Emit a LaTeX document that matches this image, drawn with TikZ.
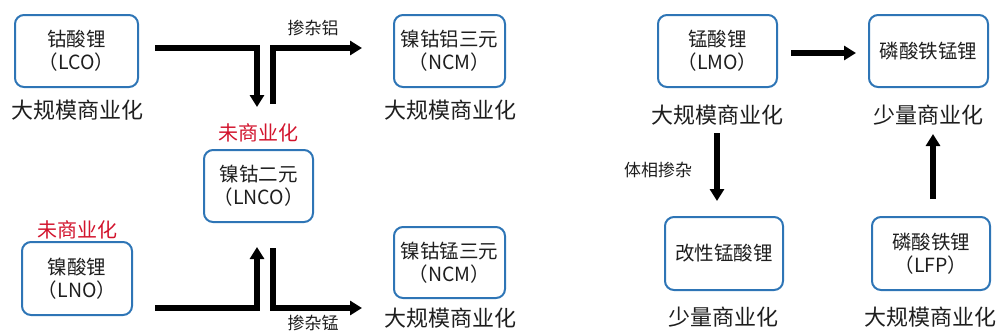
\documentclass[tikz,border=0pt]{standalone}
\usepackage{fontspec}
\setmainfont{Noto Sans CJK SC}
\usetikzlibrary{arrows.meta,calc}
\definecolor{boxblue}{RGB}{46,117,182}
\definecolor{redtxt}{RGB}{210,20,45}
\definecolor{txt}{RGB}{30,30,30}
\begin{document}
\begin{tikzpicture}[x=1pt,y=-1pt,
  box/.style={draw=boxblue, line width=2pt, rounded corners=9pt, align=center,
    inner sep=0pt, text=txt, font=\fontsize{19.5}{23}\selectfont},
  biglabel/.style={inner sep=0pt, text=txt, font=\fontsize{22}{24}\selectfont},
  redlabel/.style={inner sep=0pt, text=redtxt, font=\fontsize{20}{22}\selectfont},
  smalllabel/.style={inner sep=0pt, text=txt, font=\fontsize{17}{19}\selectfont},
  arr/.style={line width=6pt, line join=miter, -{Triangle[length=12pt,width=14pt]}}]
\useasboundingbox (0,0) rectangle (998,333);
% boxes
\node[box, minimum width=123pt, minimum height=72pt] (lco) at (76.5,51) {钴酸锂\\（LCO）};
\node[box, minimum width=111pt, minimum height=72pt] (nca) at (449.5,51) {镍钴铝三元\\（NCM）};
\node[box, minimum width=109pt, minimum height=72pt] (lnco) at (258.5,186) {镍钴二元\\（LNCO）};
\node[box, minimum width=110pt, minimum height=73pt] (lno) at (77,278.5) {镍酸锂\\（LNO）};
\node[box, minimum width=111pt, minimum height=71pt] (ncm) at (449.5,262.5) {镍钴锰三元\\（NCM）};
\node[box, minimum width=119pt, minimum height=72pt] (lmo) at (717.5,51) {锰酸锂\\（LMO）};
\node[box, minimum width=119pt, minimum height=72pt] (lmfp) at (928.5,51) {磷酸铁锰锂};
\node[box, minimum width=118pt, minimum height=73pt] (mlmo) at (724,253.5) {改性锰酸锂};
\node[box, minimum width=118pt, minimum height=73pt] (lfp) at (931,253.5) {磷酸铁锂\\（LFP）};
% labels
\node[biglabel] (l1) at (77,110) {大规模商业化};
\node[biglabel] (l2) at (450,110) {大规模商业化};
\node[redlabel] (r1) at (258,133) {未商业化};
\node[redlabel] (r2) at (77,230) {未商业化};
\node[biglabel] (l3) at (450,318) {大规模商业化};
\node[biglabel] (l4) at (717,115) {大规模商业化};
\node[biglabel] (l5) at (928,115) {少量商业化};
\node[biglabel] (l6) at (723,317) {少量商业化};
\node[biglabel] (l7) at (930,317) {大规模商业化};
\node[smalllabel] (s1) at (313,28) {掺杂铝};
\node[smalllabel] (s2) at (313,323) {掺杂锰};
\node[smalllabel] (s3) at (658,170) {体相掺杂};
% connector ends
\coordinate (c1) at (257,107);
\coordinate (c2) at (273,104);
\coordinate (c3) at (257,247);
\coordinate (c4) at (273,248);
% arrows
\draw[arr] ($(lco.east)+(16,-3)$) -| (c1);
\draw[arr] (c2) |- ($(nca.west)+(-31,-3)$);
\draw[arr] ($(lno.south east)+(22,-8)$) -| (c3);
\draw[arr] (c4) |- ($(ncm.south west)+(-31,9)$);
\draw[arr] ($(lmo.east)+(13,2)$) -- ($(lmfp.west)+(-12,2)$);
\draw[arr] ($(l4.center)+(0,18)$) -- ($(l4.center)+(0,86)$);
\draw[arr] ($(lfp.north)+(2,-17)$) -- ($(l5.center)+(5,19)$);
\end{tikzpicture}
\end{document}
